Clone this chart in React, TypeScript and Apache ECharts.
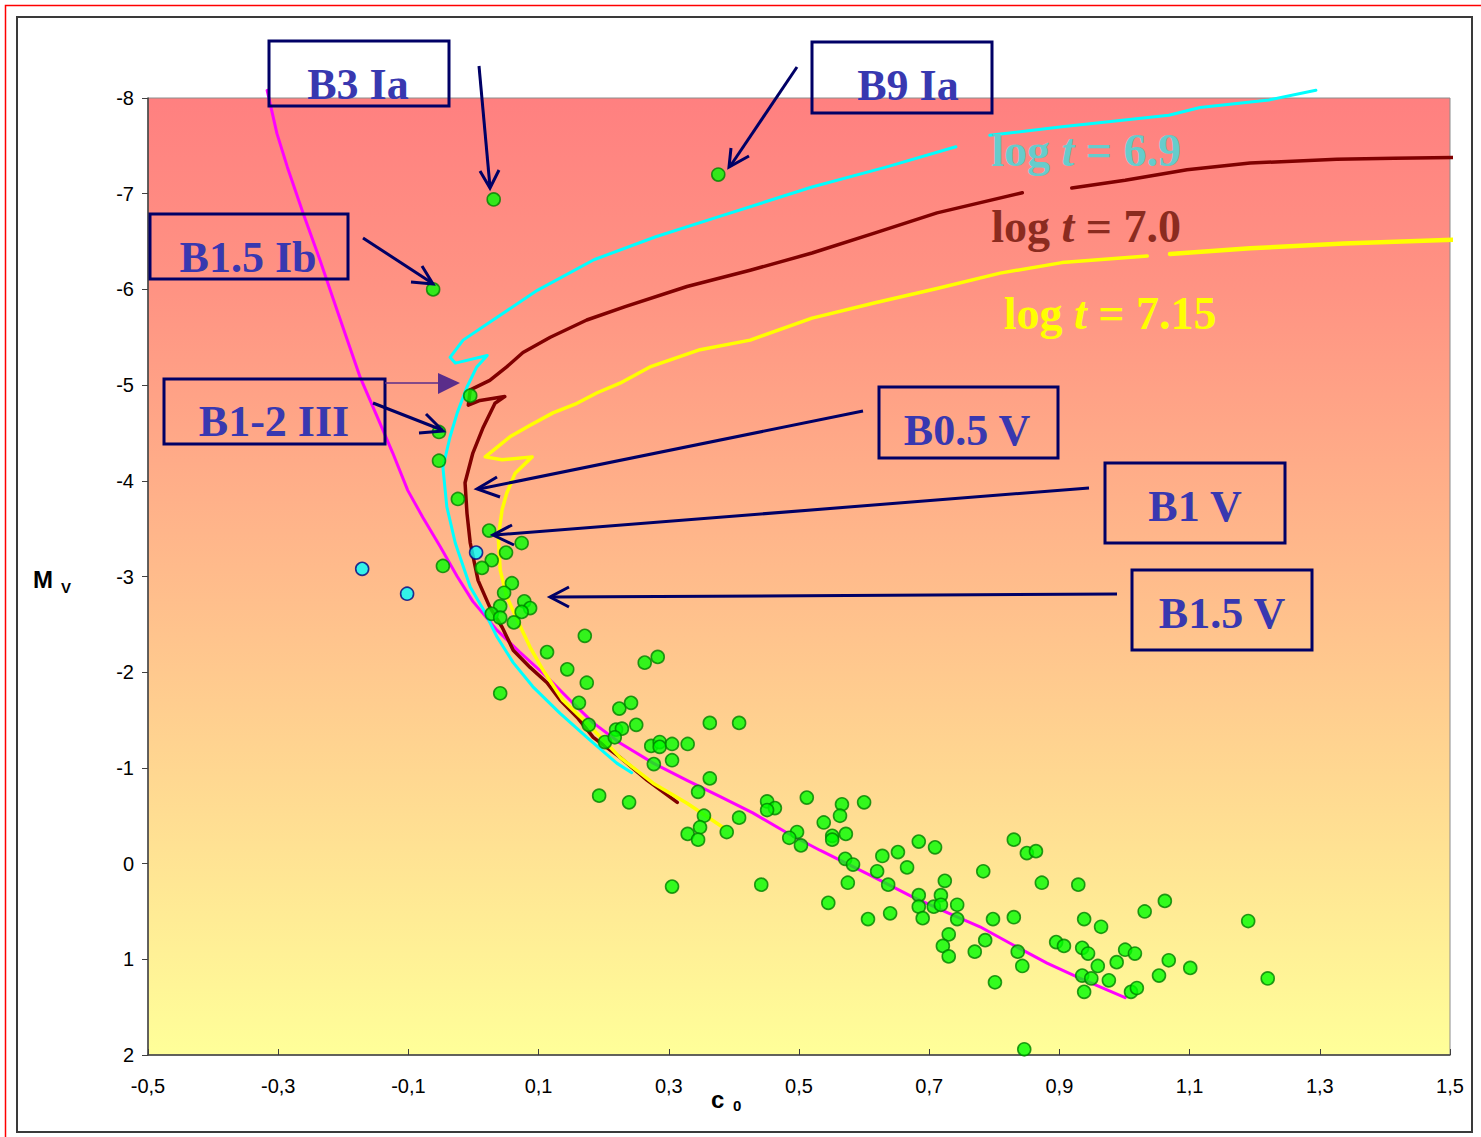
import React, { useEffect, useRef } from "react";
import * as echarts from "echarts";

// x axis is drawn on [0, 2] and labelled -0,5 ... 1,5 (ticks every 0.2 starting at -0.5)
const X_SHIFT = 0.5;
const X_MIN = -0.5;
const X_MAX = 1.5;
const X_STEP = 0.2;
const Y_MIN = -8;
const Y_MAX = 2;
const Y_STEP = 1;

// observed stars: [c0, Mv]
const greenStars: [number, number][] = [
  [0.031, -6.94], [0.376, -7.2], [-0.062, -6.0], [-0.005, -4.89], [-0.053, -4.51],
  [-0.053, -4.21], [-0.024, -3.81], [0.024, -3.48], [0.074, -3.35], [0.05, -3.25],
  [0.028, -3.17], [0.013, -3.09], [-0.047, -3.11], [0.059, -2.93], [0.047, -2.83],
  [0.041, -2.69], [0.078, -2.74], [0.087, -2.67], [0.074, -2.63], [0.028, -2.61],
  [0.041, -2.57], [0.062, -2.52], [0.171, -2.38], [0.113, -2.21], [0.144, -2.03],
  [0.263, -2.1], [0.283, -2.16], [0.174, -1.89], [0.041, -1.78], [0.162, -1.68],
  [0.224, -1.62], [0.242, -1.68], [0.177, -1.45], [0.219, -1.4], [0.228, -1.41],
  [0.25, -1.45], [0.202, -1.27], [0.217, -1.32], [0.363, -1.47], [0.408, -1.47],
  [0.273, -1.23], [0.286, -1.27], [0.286, -1.22], [0.305, -1.25], [0.329, -1.25],
  [0.277, -1.04], [0.305, -1.08], [0.363, -0.89], [0.345, -0.75], [0.193, -0.71],
  [0.239, -0.64], [0.354, -0.5], [0.348, -0.38], [0.329, -0.31], [0.345, -0.25],
  [0.389, -0.33], [0.408, -0.48], [0.451, -0.65], [0.463, -0.58], [0.451, -0.56],
  [0.512, -0.69], [0.566, -0.62], [0.6, -0.64], [0.563, -0.5], [0.538, -0.43],
  [0.497, -0.33], [0.485, -0.27], [0.503, -0.19], [0.551, -0.29], [0.551, -0.25],
  [0.572, -0.31], [0.571, -0.05], [0.583, 0.01], [0.62, 0.08], [0.305, 0.24],
  [0.442, 0.22], [0.575, 0.2], [0.545, 0.41], [0.606, 0.58], [0.628, -0.08],
  [0.652, -0.12], [0.684, -0.23], [0.709, -0.17], [0.666, 0.04], [0.637, 0.22],
  [0.64, 0.52], [0.724, 0.18], [0.684, 0.33], [0.718, 0.33], [0.684, 0.45],
  [0.707, 0.45], [0.718, 0.43], [0.743, 0.43], [0.69, 0.57], [0.743, 0.58],
  [0.73, 0.74], [0.721, 0.86], [0.73, 0.97], [0.77, 0.92], [0.783, 0.08],
  [0.83, -0.25], [0.85, -0.11], [0.864, -0.13], [0.873, 0.2], [0.929, 0.22],
  [0.798, 0.58], [0.83, 0.56], [0.786, 0.8], [0.836, 0.92], [0.843, 1.07],
  [0.801, 1.24], [0.938, 0.58], [0.964, 0.66], [0.895, 0.82], [0.907, 0.86],
  [0.935, 0.88], [0.944, 0.94], [0.959, 1.07], [0.935, 1.17], [0.949, 1.2],
  [0.976, 1.22], [0.938, 1.34], [1.001, 0.9], [1.016, 0.94], [0.988, 1.03],
  [1.01, 1.34], [1.019, 1.3], [1.031, 0.5], [1.062, 0.39], [1.068, 1.01],
  [1.053, 1.17], [1.101, 1.09], [1.19, 0.6], [1.22, 1.2], [0.846, 1.94],
];

const cyanStars: [number, number][] = [
  [-0.171, -3.08], [-0.102, -2.82], [0.004, -3.25],
];

// ZAMS (magenta)
const zamsLine: [number, number][] = [
  [-0.317, -8.08], [-0.302, -7.63], [-0.286, -7.28], [-0.262, -6.8], [-0.236, -6.31],
  [-0.208, -5.75], [-0.174, -5.08], [-0.148, -4.67], [-0.124, -4.29], [-0.101, -3.9],
  [-0.078, -3.62], [-0.051, -3.31], [-0.025, -3.0], [-0.001, -2.74], [0.036, -2.44],
  [0.071, -2.21], [0.113, -1.95], [0.148, -1.71], [0.184, -1.47], [0.225, -1.26],
  [0.276, -1.05], [0.328, -0.87], [0.379, -0.7], [0.429, -0.53], [0.482, -0.32],
  [0.532, -0.14], [0.609, 0.12], [0.675, 0.35], [0.727, 0.51], [0.778, 0.66],
  [0.829, 0.85], [0.881, 1.04], [0.932, 1.2], [1.001, 1.4],
];

// isochrone log t = 6.9 (cyan)
const iso69Lower: [number, number][] = [
  [0.243, -0.95], [0.22, -1.05], [0.179, -1.29], [0.133, -1.57], [0.091, -1.85],
  [0.061, -2.1], [0.036, -2.37], [0.018, -2.62], [-0.005, -2.89], [-0.028, -3.35],
  [-0.041, -3.73], [-0.047, -4.14], [-0.036, -4.46], [-0.025, -4.71], [-0.01, -4.98],
  [0.005, -5.19], [0.021, -5.31], [-0.028, -5.23], [-0.036, -5.29], [-0.016, -5.47],
  [0.03, -5.68], [0.098, -5.99], [0.185, -6.31], [0.28, -6.55], [0.377, -6.76],
  [0.52, -7.07], [0.635, -7.28], [0.741, -7.49],
];
const iso69Upper: [number, number][] = [
  [0.793, -7.61], [0.904, -7.7], [1.068, -7.82], [1.116, -7.9], [1.222, -7.98], [1.294, -8.08],
];

// isochrone log t = 7.0 (dark red)
const iso70Lower: [number, number][] = [
  [0.313, -0.64], [0.267, -0.87], [0.225, -1.11], [0.184, -1.32], [0.159, -1.53],
  [0.133, -1.71], [0.113, -1.89], [0.087, -2.05], [0.061, -2.23], [0.044, -2.47],
  [0.025, -2.68], [0.007, -2.96], [-0.005, -3.35], [-0.01, -3.66], [-0.013, -3.98],
  [-0.001, -4.29], [0.015, -4.56], [0.033, -4.81], [0.048, -4.88], [0.01, -4.84],
  [-0.008, -4.79], [-0.005, -4.95], [0.025, -5.05], [0.051, -5.19], [0.076, -5.34],
  [0.118, -5.5], [0.174, -5.68], [0.233, -5.82], [0.328, -6.03], [0.425, -6.2],
  [0.52, -6.38], [0.617, -6.59], [0.712, -6.8], [0.843, -7.01],
];
const iso70Upper: [number, number][] = [
  [0.919, -7.06], [1.001, -7.14], [1.096, -7.25], [1.193, -7.32], [1.326, -7.36],
  [1.414, -7.37], [1.509, -7.38],
];

// isochrone log t = 7.15 (yellow)
const iso715Lower: [number, number][] = [
  [0.383, -0.38], [0.328, -0.63], [0.276, -0.84], [0.225, -1.11], [0.174, -1.47],
  [0.137, -1.71], [0.107, -2.02], [0.087, -2.26], [0.071, -2.49], [0.051, -2.79],
  [0.041, -3.07], [0.038, -3.41], [0.044, -3.7], [0.051, -3.87], [0.064, -4.08],
  [0.09, -4.25], [0.044, -4.22], [0.018, -4.25], [0.036, -4.35], [0.056, -4.46],
  [0.087, -4.58], [0.122, -4.71], [0.159, -4.81], [0.19, -4.92], [0.225, -5.02],
  [0.271, -5.19], [0.348, -5.37], [0.425, -5.47], [0.52, -5.7], [0.617, -5.86],
  [0.712, -6.01], [0.809, -6.17], [0.904, -6.28], [1.035, -6.35],
];
const iso715Upper: [number, number][] = [
  [1.07, -6.37], [1.193, -6.43], [1.337, -6.48], [1.509, -6.52],
];

const shift = (pts: [number, number][]) => pts.map(([x, y]) => [x + X_SHIFT, y]);
const fmtX = (v: number) => (v - X_SHIFT).toFixed(1).replace(".", ",");

const NAVY = "#000066";
const LABEL_BLUE = "#3838B0";
const BOX_FONT = 'bold 44px "Liberation Serif"';

const boxes = [
  { label: "B3 Ia", x: 269, y: 41, w: 180, h: 65, tx: 358, ty: 84 },
  { label: "B9 Ia", x: 812, y: 42, w: 180, h: 71, tx: 908, ty: 85 },
  { label: "B1.5 Ib", x: 150, y: 214, w: 198, h: 65, tx: 248, ty: 257 },
  { label: "B1-2 III", x: 164, y: 379, w: 221, h: 65, tx: 274, ty: 421 },
  { label: "B0.5 V", x: 879, y: 387, w: 179, h: 71, tx: 967, ty: 430 },
  { label: "B1 V", x: 1105, y: 463, w: 180, h: 80, tx: 1195, ty: 506 },
  { label: "B1.5 V", x: 1132, y: 570, w: 180, h: 80, tx: 1222, ty: 613 },
];

const arrows = [
  { line: [[479, 66], [490, 187]], head: [[480, 171], [490, 188], [499, 170]] },
  { line: [[797, 67], [731, 165]], head: [[731, 148], [729, 167], [749, 156]] },
  { line: [[363, 238], [432, 283]], head: [[411, 282], [433, 284], [422, 266]] },
  { line: [[373, 403], [442, 430]], head: [[419, 433], [443, 431], [426, 414]] },
  { line: [[863, 411], [479, 489]], head: [[497, 477], [477, 489], [500, 497]] },
  { line: [[1089, 488], [495, 535]], head: [[512, 525], [493, 535], [514, 545]] },
  { line: [[1117, 594], [553, 597]], head: [[569, 587], [550, 597], [569, 607]] },
];

const isoLabels = [
  { t: "6.9", color: "#66CCCC", x: 1086, y: 150 },
  { t: "7.0", color: "#8B2B1F", x: 1086, y: 226 },
  { t: "7.15", color: "#FFFF00", x: 1110, y: 313 },
];

function buildGraphics() {
  const g: any[] = [];
  g.push({
    type: "rect", z: 100, silent: true,
    shape: { x: 5.5, y: 5.5, width: 1500, height: 1150 },
    style: { fill: "none", stroke: "#FF0000", lineWidth: 1.5 },
  });
  g.push({
    type: "rect", z: 100, silent: true,
    shape: { x: 17, y: 17, width: 1455, height: 1115 },
    style: { fill: "none", stroke: "#3a3a3a", lineWidth: 2 },
  });
  boxes.forEach((b) => {
    g.push({
      type: "rect", z: 100, silent: true,
      shape: { x: b.x, y: b.y, width: b.w, height: b.h },
      style: { fill: "none", stroke: NAVY, lineWidth: 3 },
    });
    g.push({
      type: "text", z: 101, silent: true, x: b.tx, y: b.ty,
      style: { text: b.label, font: BOX_FONT, fill: LABEL_BLUE, align: "center", verticalAlign: "middle" },
    });
  });
  arrows.forEach((a) => {
    g.push({
      type: "line", z: 100, silent: true,
      shape: { x1: a.line[0][0], y1: a.line[0][1], x2: a.line[1][0], y2: a.line[1][1] },
      style: { stroke: NAVY, lineWidth: 3 },
    });
    g.push({
      type: "polyline", z: 100, silent: true,
      shape: { points: a.head },
      style: { stroke: NAVY, lineWidth: 3, fill: "none" },
    });
  });
  // purple arrow for B1-2 III
  g.push({
    type: "line", z: 100, silent: true,
    shape: { x1: 385, y1: 383, x2: 440, y2: 383 },
    style: { stroke: "#5A2D8A", lineWidth: 1.5 },
  });
  g.push({
    type: "polygon", z: 100, silent: true,
    shape: { points: [[438, 373], [460, 383], [438, 394]] },
    style: { fill: "#5A2D8A" },
  });
  isoLabels.forEach((l) => {
    g.push({
      type: "text", z: 101, silent: true, x: l.x, y: l.y,
      style: {
        text: `{n|log }{i|t}{n| = ${l.t}}`,
        font: 'bold 46px "Liberation Serif"',
        fill: l.color,
        align: "center",
        verticalAlign: "middle",
        rich: {
          n: { fontFamily: "Liberation Serif", fontWeight: "bold", fontSize: 46, fill: l.color, color: l.color },
          i: { fontFamily: "Liberation Serif", fontWeight: "bold", fontStyle: "italic", fontSize: 46, fill: l.color, color: l.color },
        },
      },
    });
  });
  // axis names
  g.push({ type: "text", z: 101, silent: true, x: 33, y: 579,
    style: { text: "M", font: 'bold 24px "Liberation Sans"', fill: "#000", align: "left", verticalAlign: "middle" } });
  g.push({ type: "text", z: 101, silent: true, x: 61, y: 587,
    style: { text: "V", font: 'bold 15px "Liberation Sans"', fill: "#000", align: "left", verticalAlign: "middle" } });
  g.push({ type: "text", z: 101, silent: true, x: 711, y: 1099,
    style: { text: "c", font: 'bold 24px "Liberation Sans"', fill: "#000", align: "left", verticalAlign: "middle" } });
  g.push({ type: "text", z: 101, silent: true, x: 733, y: 1105,
    style: { text: "0", font: 'bold 15px "Liberation Sans"', fill: "#000", align: "left", verticalAlign: "middle" } });
  return g;
}

function lineSeries(data: [number, number][], color: string, width: number, z: number) {
  return {
    type: "line",
    data: shift(data),
    symbol: "none",
    showSymbol: false,
    clip: false,
    smooth: false,
    z,
    lineStyle: { color, width, cap: "round", join: "round" },
    emphasis: { disabled: true },
  };
}

export default function App() {
  const ref = useRef<HTMLDivElement>(null);
  useEffect(() => {
    if (!ref.current) return;
    const chart = echarts.init(ref.current, null, { renderer: "svg" });
    const axisFont = { fontFamily: "Liberation Sans", fontSize: 20, color: "#000" };
    chart.setOption({
      animation: false,
      backgroundColor: "#ffffff",
      grid: {
        left: 148, top: 98, width: 1302, height: 957,
        show: true,
        borderColor: "#8c8c8c",
        borderWidth: 1,
        outerBoundsMode: "none",
        backgroundColor: new echarts.graphic.LinearGradient(0, 0, 0, 1, [
          { offset: 0, color: "#FF8080" },
          { offset: 0.2, color: "#FF9383" },
          { offset: 1, color: "#FFFF99" },
        ]),
      },
      xAxis: {
        type: "value",
        min: X_MIN + X_SHIFT,
        max: X_MAX + X_SHIFT,
        interval: X_STEP,
        axisLine: { show: true, onZero: false, lineStyle: { color: "#404040", width: 1.5 } },
        axisTick: { show: true, inside: true, length: 6, lineStyle: { color: "#404040" } },
        axisLabel: { ...axisFont, margin: 21, formatter: fmtX },
        splitLine: { show: false },
      },
      yAxis: {
        type: "value",
        min: Y_MIN,
        max: Y_MAX,
        interval: Y_STEP,
        inverse: true,
        axisLine: { show: true, onZero: false, lineStyle: { color: "#404040", width: 1.5 } },
        axisTick: { show: true, inside: false, length: 6, lineStyle: { color: "#404040" } },
        axisLabel: { ...axisFont, margin: 14 },
        splitLine: { show: false },
      },
      series: [
        lineSeries(zamsLine, "#FF00FF", 3, 2),
        lineSeries(iso69Lower, "#00FFFF", 3, 3),
        lineSeries(iso69Upper, "#00FFFF", 3, 3),
        lineSeries(iso70Lower, "#800000", 3.5, 3),
        lineSeries(iso70Upper, "#800000", 3.5, 3),
        lineSeries(iso715Lower, "#FFFF00", 3.5, 3),
        lineSeries(iso715Upper, "#FFFF00", 4.5, 3),
        {
          type: "scatter",
          data: shift(greenStars),
          symbol: "circle",
          symbolSize: 13,
          z: 5,
          itemStyle: { color: "#00FF00", borderColor: "#008000", borderWidth: 1.6 },
          emphasis: { disabled: true },
        },
        {
          type: "scatter",
          data: shift(cyanStars),
          symbol: "circle",
          symbolSize: 13,
          z: 5,
          itemStyle: { color: "#00FFFF", borderColor: "#000080", borderWidth: 1.6 },
          emphasis: { disabled: true },
        },
      ],
      graphic: buildGraphics(),
    });
    return () => chart.dispose();
  }, []);
  return (
    <div
      ref={ref}
      style={{ position: "absolute", left: 0, top: 0, width: 1481, height: 1137 }}
    />
  );
}
